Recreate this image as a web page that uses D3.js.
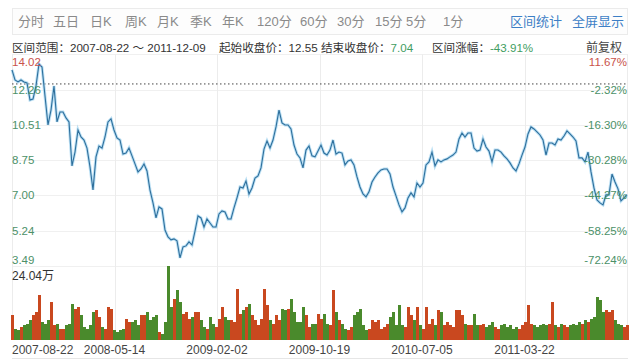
<!DOCTYPE html>
<meta charset="utf-8">
<html>
<body style="margin:0;background:#fff">
<div id="chart"></div>
<script src="https://d3js.org/d3.v7.min.js"></script>
<script>
  const closes = [
    13.25,12.75,12.65,12.75,12.65,12.60,11.75,11.80,12.45,13.54,13.39,11.95,10.51,11.25,12.45,10.66,
    11.15,11.15,10.86,10.66,8.47,9.16,10.26,9.91,9.76,9.36,8.42,7.28,8.92,9.46,9.36,9.91,
    10.66,10.81,10.26,9.86,9.76,9.06,9.11,9.36,8.97,8.57,8.17,8.32,8.57,8.22,7.27,6.63,
    5.88,6.43,6.33,5.28,4.94,4.79,4.84,4.74,3.89,4.44,4.49,4.69,4.54,5.23,5.98,5.88,
    5.43,5.83,5.63,5.43,5.43,6.08,6.23,6.18,5.83,5.83,6.38,6.88,7.42,7.37,7.72,7.07,
    7.37,7.87,7.97,8.37,9.31,9.71,9.36,9.76,10.41,11.25,10.61,10.51,10.51,10.31,9.51,9.06,
    8.87,8.37,9.26,9.46,8.97,8.92,9.21,9.51,9.11,9.01,9.26,9.76,9.06,9.16,9.11,8.52,
    8.72,8.77,8.52,7.92,7.42,7.08,6.93,7.18,7.67,7.92,8.12,8.27,8.32,8.32,8.07,7.42,
    6.98,6.53,6.18,6.38,6.88,7.13,6.93,7.62,7.42,7.62,8.52,8.67,9.16,8.47,8.77,8.67,
    8.77,8.82,8.92,9.01,9.16,9.81,10.11,9.91,10.11,10.11,9.36,9.21,9.26,9.81,9.41,9.21,
    8.67,9.26,9.26,9.16,8.97,8.82,8.62,8.37,8.22,8.57,9.01,9.41,10.06,10.41,10.31,10.16,
    10.01,9.76,9.01,9.61,9.61,9.51,9.81,9.76,9.96,10.21,10.06,9.91,9.71,8.87,8.87,8.67,
    9.16,8.17,7.37,6.78,6.63,6.53,7.03,7.03,8.07,7.67,7.33,6.73,6.88,7.04
  ];
  // volume, in 万 shares
  const volumes = [
    8.0,3.7,3.1,4.2,4.8,5.3,6.4,8.0,9.1,14.5,5.8,5.3,6.4,12.3,4.8,5.3,
    3.7,3.7,4.8,5.3,11.8,10.2,10.7,8.0,4.2,3.7,4.8,9.1,9.6,7.5,4.2,3.7,
    10.7,10.2,3.1,2.6,3.1,3.7,6.9,5.8,5.8,6.4,4.8,8.0,8.0,9.1,6.4,7.5,
    8.0,2.6,2.1,5.8,24.04,10.7,13.4,16.1,12.3,8.5,9.1,6.9,7.5,9.1,9.1,6.4,
    4.2,3.7,7.5,5.3,4.2,6.9,10.7,7.5,6.4,6.4,5.8,16.7,8.5,9.6,10.7,11.8,
    8.0,6.4,4.8,6.9,16.7,11.3,6.4,5.3,8.0,6.4,10.2,9.6,10.2,13.4,9.1,5.8,
    5.8,10.7,8.0,4.2,5.3,5.3,8.5,6.9,8.5,5.3,4.8,16.1,9.1,6.4,5.3,3.7,
    3.1,4.2,8.0,9.1,10.2,4.8,3.1,3.7,6.4,5.8,6.4,3.7,4.2,5.3,7.5,9.1,
    4.8,11.3,4.8,4.2,10.7,8.0,6.4,10.7,4.8,3.7,10.7,5.3,6.9,4.8,9.6,9.1,
    4.8,5.8,4.8,4.2,9.6,9.6,8.0,5.3,4.8,4.8,8.5,4.8,4.8,5.3,4.2,4.8,
    5.8,4.2,3.7,4.8,5.3,4.2,4.8,3.7,4.2,3.7,4.8,5.8,11.3,5.3,4.8,4.2,
    4.8,5.3,4.8,5.3,12.3,4.8,4.2,5.3,4.8,4.2,4.8,5.3,4.8,5.8,5.3,6.4,
    5.8,6.9,7.5,14.0,12.9,9.1,9.6,9.1,9.6,6.4,5.3,4.8,4.2,4.8
  ];
  const priceTicks = [3.49, 5.24, 7.00, 8.75, 10.51, 12.26, 14.02];
  const pctTicks = ["-72.24%", "-58.25%", "-44.27%", "-30.28%", "-16.30%", "-2.32%", "11.67%"];
  const dateLabels = ["2007-08-22", "2008-05-14", "2009-02-02", "2009-10-19", "2010-07-05", "2011-03-22"];
  const tabs = ["分时", "五日", "日K", "周K", "月K", "季K", "年K", "120分", "60分", "30分", "15分", "5分", "1分"];
  const links = ["区间统计", "全屏显示"];
  const rangeText = "2007-08-22 ～ 2011-12-09";
  const startPrice = 12.55, endPrice = 7.04, rangePct = "-43.91%";
  const volMax = 24.04;

  // layout
  const W = 640, H = 363;
  const left = 12, right = 627;
  const priceTop = 54.4, priceBottom = 266;
  const volTop = 266, volBottom = 340;
  const tabX = [18, 53, 90, 125, 157, 190, 222, 257, 300, 337, 375, 406, 443];
  const font = "'Liberation Sans', 'Noto Sans CJK SC', sans-serif";
  const red = "#c9524a", green = "#4c9168";

  const svg = d3.select("#chart").append("svg")
    .attr("width", W).attr("height", H)
    .style("font-family", font);

  svg.append("rect").attr("width", W).attr("height", H).attr("fill", "#fff");

  // tab bar
  svg.append("rect")
    .attr("x", 12.5).attr("y", 8.5).attr("width", 615).attr("height", 26)
    .attr("fill", "#fdfdfd").attr("stroke", "#ebebeb");
  svg.selectAll(".tab").data(tabs).enter().append("text")
    .attr("x", (d, i) => tabX[i]).attr("y", 26)
    .attr("font-size", 13).attr("fill", "#8a8a8a")
    .text(d => d);
  svg.selectAll(".link").data(links).enter().append("text")
    .attr("x", (d, i) => [510, 572][i]).attr("y", 26)
    .attr("font-size", 13).attr("fill", "#3d7fc6")
    .text(d => d);

  // summary row
  const fs = 11.6;
  svg.append("text").attr("x", 12).attr("y", 52).attr("font-size", fs).attr("fill", "#333")
    .text("区间范围：" + rangeText);
  const info2 = svg.append("text").attr("y", 52).attr("font-size", fs).attr("fill", "#333");
  info2.append("tspan").attr("x", 219).text("起始收盘价：");
  info2.append("tspan").text(startPrice.toFixed(2));
  const info3 = svg.append("text").attr("y", 52).attr("font-size", fs).attr("fill", "#333");
  info3.append("tspan").attr("x", 321).text("结束收盘价：");
  info3.append("tspan").attr("fill", "#3f9d62").text(endPrice.toFixed(2));
  const info4 = svg.append("text").attr("y", 52).attr("font-size", fs).attr("fill", "#333");
  info4.append("tspan").attr("x", 432).text("区间涨幅：");
  info4.append("tspan").attr("fill", "#3f9d62").text(rangePct);
  svg.append("text").attr("x", 622).attr("y", 52).attr("text-anchor", "end")
    .attr("font-size", 12).attr("fill", "#444").text("前复权");

  // scales
  const x = d3.scaleLinear().domain([0, closes.length - 1]).range([left, right]);
  const y = d3.scaleLinear().domain([priceTicks[0], priceTicks[priceTicks.length - 1]]).range([priceBottom, priceTop]);
  const yv = d3.scaleLinear().domain([0, volMax]).range([volBottom, volTop]);

  // grid
  svg.selectAll(".hgrid").data(priceTicks).enter().append("line")
    .attr("x1", left).attr("x2", 628)
    .attr("y1", d => Math.round(y(d)) + 0.5).attr("y2", d => Math.round(y(d)) + 0.5)
    .attr("stroke", "#f0f0f0");
  const vticks = d3.range(0, 7).map(i => i * (closes.length - 1) / 6);
  svg.selectAll(".vgrid").data(vticks).enter().append("line")
    .attr("x1", d => Math.round(x(d)) + 0.5).attr("x2", d => Math.round(x(d)) + 0.5)
    .attr("y1", priceTop).attr("y2", volBottom)
    .attr("stroke", "#ececec");
  svg.append("line").attr("x1", left).attr("x2", 628).attr("y1", 358.5).attr("y2", 358.5)
    .attr("stroke", "#e6e6e6");

  // volume bars
  const step = x(1) - x(0);
  svg.append("g").attr("shape-rendering", "crispEdges")
    .selectAll("rect").data(volumes).enter().append("rect")
    .attr("x", (d, i) => x(i) - step / 2)
    .attr("y", d => yv(d))
    .attr("width", step + 0.4)
    .attr("height", d => volBottom - yv(d))
    .attr("fill", (d, i) => (i === 0 || closes[i] >= closes[i - 1]) ? "#c9481f" : "#4a8a2c");

  // start price reference line
  svg.append("line")
    .attr("x1", left).attr("x2", 628)
    .attr("y1", y(startPrice)).attr("y2", y(startPrice))
    .attr("stroke", "#444").attr("stroke-dasharray", "1.5,2.5");

  // price line with soft halo
  const line = d3.line().x((d, i) => x(i)).y(d => y(d));
  svg.append("path").datum(closes).attr("d", line)
    .attr("fill", "none").attr("stroke", "#9fd3f0").attr("stroke-width", 3).attr("opacity", 0.7);
  svg.append("path").datum(closes).attr("d", line)
    .attr("fill", "none").attr("stroke", "#2e6f9c").attr("stroke-width", 1.1);

  // axis labels
  const labelY = (d, i) => i === priceTicks.length - 1 ? y(d) + 12 : (i === 0 ? y(d) - 2 : y(d) + 4);
  svg.selectAll(".pl").data(priceTicks).enter().append("text")
    .attr("x", left).attr("y", labelY)
    .attr("font-size", 11.5)
    .attr("fill", d => d > startPrice ? red : green)
    .text(d => d.toFixed(2));
  svg.selectAll(".pr").data(pctTicks).enter().append("text")
    .attr("x", 627).attr("y", (d, i) => labelY(priceTicks[i], i))
    .attr("text-anchor", "end")
    .attr("font-size", 11.5)
    .attr("fill", (d, i) => priceTicks[i] > startPrice ? red : green)
    .text(d => d);

  svg.append("text").attr("x", left).attr("y", 280)
    .attr("font-size", 12).attr("fill", "#333").text(volMax.toFixed(2) + "万");

  svg.selectAll(".dl").data(dateLabels).enter().append("text")
    .attr("x", (d, i) => i === 0 ? left : x(vticks[i]))
    .attr("y", 354)
    .attr("text-anchor", (d, i) => i === 0 ? "start" : "middle")
    .attr("font-size", 12).attr("fill", "#444")
    .text(d => d);
</script>
</body>
</html>
